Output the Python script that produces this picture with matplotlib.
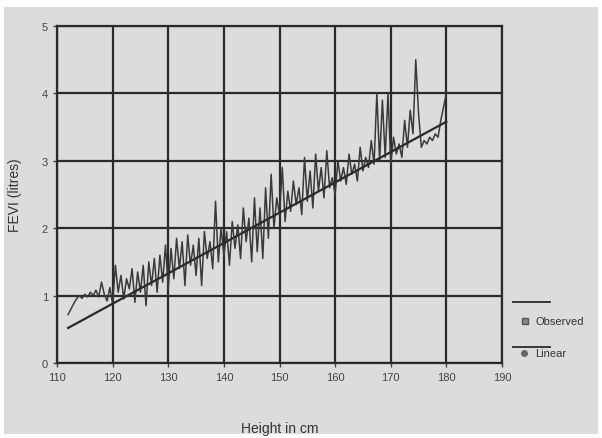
import numpy as np
import matplotlib.pyplot as plt
from matplotlib.patches import Rectangle
from matplotlib.lines import Line2D

plt.rcParams['font.family'] = ['Liberation Sans', 'DejaVu Sans']

# heights sampled every 0.5 cm
heights = np.arange(112, 180.5, 0.5)
observed = [
    0.72, 0.80, 0.88, 0.95, 1.00, 0.96, 1.02, 0.98, 1.05, 1.00,
    1.08, 0.98, 1.20, 1.02, 0.92, 1.12, 0.88, 1.45, 1.05, 1.30,
    0.95, 1.25, 1.10, 1.40, 0.90, 1.35, 1.05, 1.45, 0.85, 1.50,
    1.15, 1.55, 1.05, 1.60, 1.20, 1.75, 1.10, 1.70, 1.25, 1.85,
    1.40, 1.80, 1.15, 1.90, 1.45, 1.75, 1.30, 1.85, 1.15, 1.95,
    1.55, 1.80, 1.40, 2.40, 1.50, 2.00, 1.60, 1.95, 1.45, 2.10,
    1.70, 2.05, 1.55, 2.30, 1.80, 2.15, 1.50, 2.45, 1.65, 2.30,
    1.55, 2.60, 1.85, 2.80, 2.00, 2.45, 2.20, 2.90, 2.10, 2.55,
    2.25, 2.70, 2.35, 2.60, 2.20, 3.05, 2.40, 2.85, 2.30, 3.10,
    2.55, 2.90, 2.45, 3.15, 2.60, 2.75, 2.50, 3.00, 2.70, 2.90,
    2.65, 3.10, 2.80, 2.95, 2.70, 3.20, 2.85, 3.05, 2.90, 3.30,
    2.95, 4.00, 3.00, 3.90, 3.05, 4.00, 2.95, 3.35, 3.10, 3.25,
    3.05, 3.60, 3.20, 3.75, 3.40, 4.50, 3.70, 3.20, 3.30, 3.25,
    3.35, 3.30, 3.40, 3.35, 3.60, 3.80, 4.00,
]
linear_x = [112, 180]
linear_y = [0.52, 3.58]

x_ticks = [110, 120, 130, 140, 150, 160, 170, 180, 190]
y_ticks = [0, 1, 2, 3, 4, 5]

bg = '#dcdcdc'
ink = '#2a2a2a'

fig = plt.figure(figsize=(6.02, 4.39), dpi=100, facecolor='white')
fig.patches.append(Rectangle((4 / 602, 1 - 435 / 439), 594 / 602, 427 / 439,
                             transform=fig.transFigure, facecolor=bg,
                             edgecolor='none', zorder=-10))

ax = fig.add_axes([57 / 602, 1 - 364 / 439, 445 / 602, 337 / 439])
ax.set_facecolor(bg)
ax.plot(heights, observed, color='#3a3a3a', lw=1.1)
ax.plot(linear_x, linear_y, color='#2a2a2a', lw=1.6)

ax.set_xlim(110, 190)
ax.set_ylim(0, 5)
ax.set_xticks(x_ticks)
ax.set_yticks(y_ticks)
ax.grid(True, color=ink, lw=1.6)
ax.set_axisbelow(True)
for s in ax.spines.values():
    s.set_color(ink)
    s.set_linewidth(1.6)
ax.tick_params(colors='#444444', labelsize=8, length=3, width=1)

ax.set_xlabel('Height in cm', fontsize=10, color='#333333', labelpad=28)
ax.set_ylabel('FEVI (litres)', fontsize=10, color='#333333', labelpad=14)

# legend drawn beside the plot
fig.lines.append(Line2D([513 / 602, 550 / 602], [1 - 303 / 439] * 2,
                        transform=fig.transFigure, color=ink, lw=1.3))
fig.lines.append(Line2D([525 / 602], [1 - 322 / 439], transform=fig.transFigure,
                        marker='s', ms=4, mfc='#888888', mec='#555555', ls='none'))
fig.text(535 / 602, 1 - 322 / 439, 'Observed', fontsize=8, color='#333333', va='center')
fig.lines.append(Line2D([513 / 602, 550 / 602], [1 - 348 / 439] * 2,
                        transform=fig.transFigure, color=ink, lw=1.3))
fig.lines.append(Line2D([524 / 602], [1 - 354 / 439], transform=fig.transFigure,
                        marker='o', ms=4, mfc='#666666', mec='#666666', ls='none'))
fig.text(535 / 602, 1 - 354 / 439, 'Linear', fontsize=8, color='#333333', va='center')

fig.savefig('out.png', dpi=100, facecolor='white')
